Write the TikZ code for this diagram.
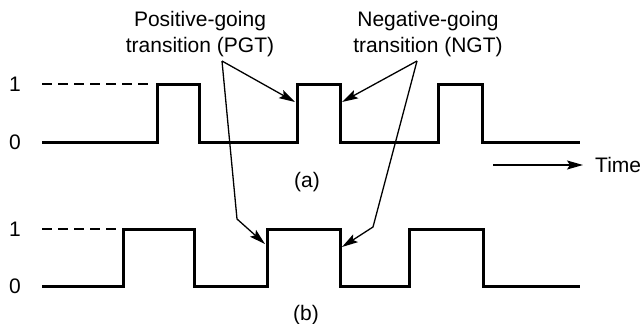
\documentclass[tikz,border=0pt]{standalone}
\usepackage{fontspec}
\setmainfont{Liberation Sans}
\usetikzlibrary{arrows.meta}
\tikzset{
  >={Stealth[length=16pt,width=9pt,inset=3pt]},
  lvl/.style={font=\fontsize{21}{26}\selectfont, inner sep=0pt},
  caption/.style={font=\fontsize{21}{26}\selectfont, align=center, inner sep=0pt},
  wave/.style={line width=3pt, line join=miter},
  guide/.style={line width=1.2pt, dash pattern=on 10pt off 6pt},
  pointer/.style={->, line width=1.3pt},
}

\begin{document}
\begin{tikzpicture}[x=1pt,y=-1pt]
  \useasboundingbox (0,0) rectangle (640,324);

  % level labels
  \node[lvl] (oneA) at (15,84) {1};
  \node[lvl] (zeroA) at (15,142) {0};
  \node[lvl] (oneB) at (15,229) {1};
  \node[lvl] (zeroB) at (15,286) {0};

  % waveform (a)
  \draw[guide] (42,84) -- (150,84);
  \draw[wave] (42,142) -- (157,142) -- (157,84) -- (199,84) -- (199,142)
    -- (297,142) -- (297,84) -- (340,84) -- (340,142)
    -- (438,142) -- (438,84) -- (482,84) -- (482,142) -- (580,142);
  \node[caption] (capA) at (307,182) {(a)};

  % waveform (b)
  \draw[guide] (42,229) -- (117,229);
  \draw[wave] (42,286) -- (123,286) -- (123,229) -- (194,229) -- (194,286)
    -- (267,286) -- (267,229) -- (340,229) -- (340,286)
    -- (409,286) -- (409,229) -- (483,229) -- (483,286) -- (580,286);
  \node[caption] (capB) at (306,315) {(b)};

  % time axis
  \coordinate (timefrom) at (493,165);
  \node[lvl, anchor=west] (time) at (595,165) {Time};
  \draw[pointer, shorten >=12pt] (timefrom) -- (time.west);

  % transition labels
  \node[caption] (pgt) at (200,34) {Positive-going\\transition (PGT)};
  \node[caption] (ngt) at (428,34) {Negative-going\\transition (NGT)};
  \coordinate (pgtfoot) at (222,61);
  \coordinate (ngtfoot) at (417,61);
  \coordinate (riseA) at (295,102);
  \coordinate (fallA) at (342,102);
  \coordinate (riseB) at (265,244);
  \coordinate (fallB) at (342,247);

  \draw[pointer] (pgtfoot) -- (riseA);
  \draw[pointer] (pgtfoot) -- (237,219) -- (riseB);
  \draw[pointer] (ngtfoot) -- (fallA);
  \draw[pointer] (ngtfoot) -- (373,227) -- (fallB);
\end{tikzpicture}
\end{document}
